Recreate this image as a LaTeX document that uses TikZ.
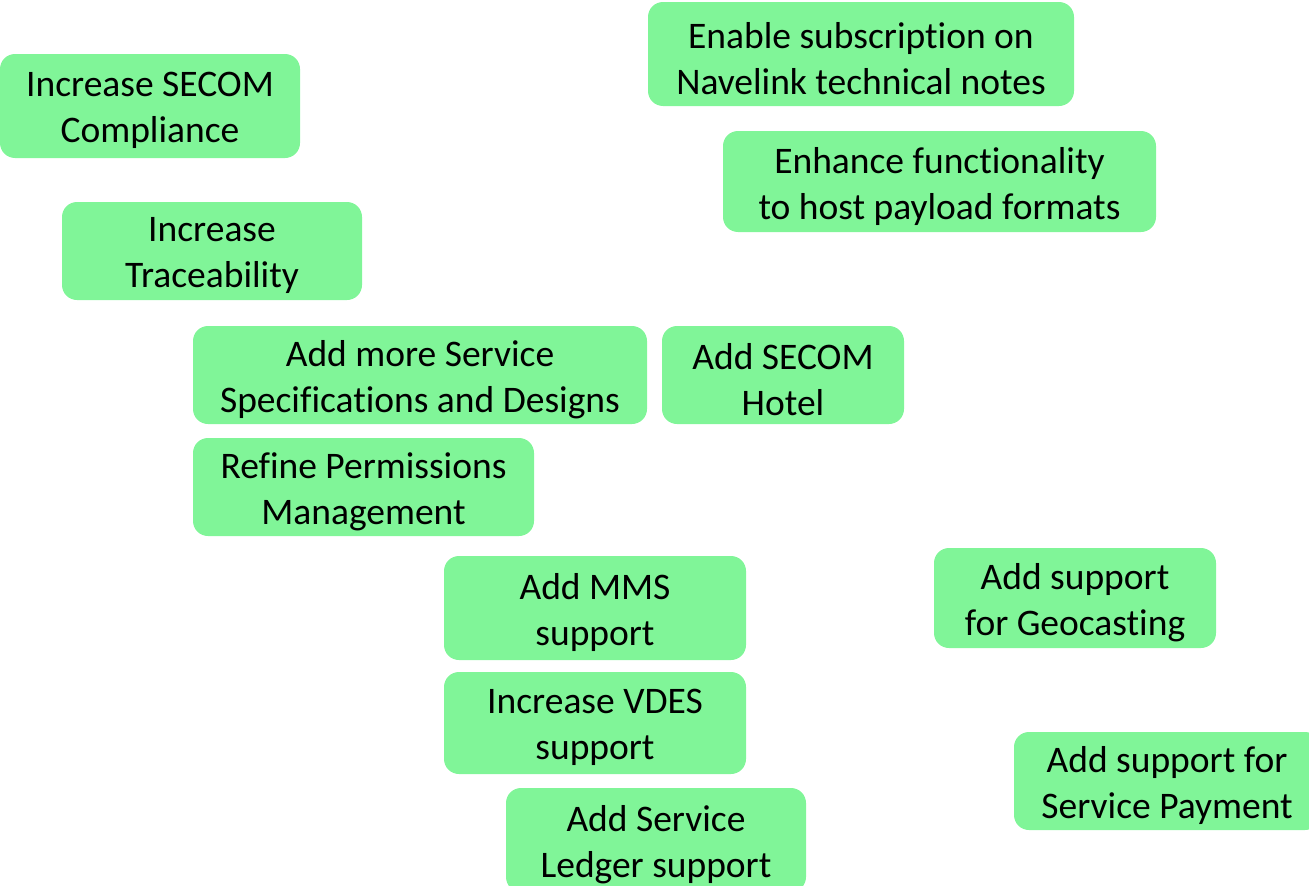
\documentclass[tikz,border=0pt]{standalone}
\usepackage{fontspec}
\setmainfont[Ligatures=NoCommon]{Carlito}
\definecolor{boxgreen}{RGB}{128,245,152}
\tikzset{
  gbox/.style={fill=boxgreen, draw=none, rounded corners=15pt, inner sep=0pt},
  gtext/.style={align=center, inner sep=0pt, yshift=-4.5pt,
    font=\fontsize{37.5pt}{46pt}\selectfont, text=black},
}
\begin{document}
\begin{tikzpicture}[x=1pt,y=-1pt]
\useasboundingbox (0,0) rectangle (1309,886);
\clip (0,0) rectangle (1309,886);
\node[gbox, minimum width=300pt, minimum height=104pt, label={[gtext]center:Increase SECOM\\Compliance}] (secom) at (150,106) {};
\node[gbox, minimum width=426pt, minimum height=104pt, label={[gtext]center:Enable subscription on\\Navelink technical notes}] (navelink) at (861,54) {};
\node[gbox, minimum width=433pt, minimum height=101pt, label={[gtext]center:Enhance functionality\\to host payload formats}] (payload) at (939.5,181.5) {};
\node[gbox, minimum width=300pt, minimum height=98pt, label={[gtext]center:Increase\\Traceability}] (trace) at (212,251) {};
\node[gbox, minimum width=454pt, minimum height=98pt, label={[gtext]center:Add more Service\\Specifications and Designs}] (specs) at (420,375) {};
\node[gbox, minimum width=242pt, minimum height=98pt, label={[gtext]center:Add SECOM\\Hotel}] (hotel) at (783,375) {};
\node[gbox, minimum width=341pt, minimum height=98pt, label={[gtext]center:Refine Permissions\\Management}] (perm) at (363.5,487) {};
\node[gbox, minimum width=302pt, minimum height=104pt, label={[gtext]center:Add MMS\\support}] (mms) at (595,608) {};
\node[gbox, minimum width=282pt, minimum height=100pt, label={[gtext]center:Add support\\for Geocasting}] (geo) at (1075,598) {};
\node[gbox, minimum width=302pt, minimum height=102pt, label={[gtext]center:Increase VDES\\support}] (vdes) at (595,723) {};
\node[gbox, minimum width=306pt, minimum height=98pt, label={[gtext]center:Add support for\\Service Payment}] (pay) at (1167,781) {};
\node[gbox, minimum width=300pt, minimum height=104pt, label={[gtext]center:Add Service\\Ledger support}] (ledger) at (656,840) {};
\end{tikzpicture}
\end{document}
